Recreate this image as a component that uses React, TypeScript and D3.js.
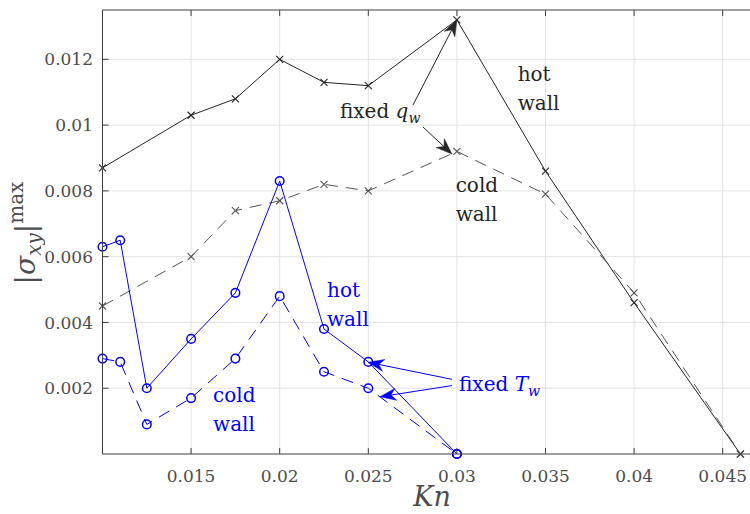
import React from 'react';
import * as d3 from 'd3';

// fixed heat flux (black), fixed wall temperature (blue)
const knQ = [0.01, 0.015, 0.0175, 0.02, 0.0225, 0.025, 0.03, 0.035, 0.04, 0.046];
const hotQ = [0.0087, 0.0103, 0.0108, 0.012, 0.0113, 0.0112, 0.0132, 0.0086, 0.0046, 0];
const coldQ = [0.0045, 0.006, 0.0074, 0.0077, 0.0082, 0.008, 0.0092, 0.0079, 0.0049, 0];

const knT = [0.01, 0.011, 0.0125, 0.015, 0.0175, 0.02, 0.0225, 0.025, 0.03];
const hotT = [0.0063, 0.0065, 0.002, 0.0035, 0.0049, 0.0083, 0.0038, 0.0028, 0];
const coldT = [0.0029, 0.0028, 0.0009, 0.0017, 0.0029, 0.0048, 0.0025, 0.002, 0];

const xTicks = [0.015, 0.02, 0.025, 0.03, 0.035, 0.04, 0.045];
const xTickLabels = ['0.015', '0.02', '0.025', '0.03', '0.035', '0.04', '0.045'];
const yTicks = [0.002, 0.004, 0.006, 0.008, 0.01, 0.012];
const yTickLabels = ['0.002', '0.004', '0.006', '0.008', '0.01', '0.012'];

// text notes, in data coordinates (x, baseline y)
const notes = [
  { x: 0.03343, y: 0.01134, lines: ['hot', 'wall'], color: '#262626' },
  { x: 0.02993, y: 0.00796, lines: ['cold', 'wall'], color: '#262626' },
  { x: 0.02267, y: 0.00477, lines: ['hot', 'wall'], color: '#0000ff' },
  { x: 0.01624, y: 0.00159, lines: ['cold', 'wall'], color: '#0000ff' },
];

// arrows [from, to] in data coordinates
const arrows = [
  { x0: 0.02752, y0: 0.01061, x1: 0.03, y1: 0.0132, color: '#262626' },
  { x0: 0.02809, y0: 0.00994, x1: 0.02972, y1: 0.00912, color: '#262626' },
  { x0: 0.02972, y0: 0.00227, x1: 0.02498, y1: 0.00279, color: '#0000ff' },
  { x0: 0.02972, y0: 0.00208, x1: 0.02566, y1: 0.00174, color: '#0000ff' },
];

const W = 750;
const H = 514;
const left = 102.5;
const top = 10;
const bottom = 454;
const font = 'DejaVu Serif';
const axisColor = '#404040';

function Arrow({ x0, y0, x1, y1, color }) {
  const ang = Math.atan2(y1 - y0, x1 - x0);
  const len = 16;
  const half = 6;
  const back = 11;
  const ux = Math.cos(ang), uy = Math.sin(ang);
  const px = -uy, py = ux;
  const bx = x1 - ux * len, by = y1 - uy * len;
  const nx = x1 - ux * back, ny = y1 - uy * back;
  const head = `M${x1},${y1}L${bx + px * half},${by + py * half}L${nx},${ny}L${bx - px * half},${by - py * half}Z`;
  return (
    <g>
      <line x1={x0} y1={y0} x2={nx} y2={ny} stroke={color} strokeWidth={1} />
      <path d={head} fill={color} stroke={color} strokeWidth={0.5} />
    </g>
  );
}

export default function App() {
  const x = d3.scaleLinear().domain([0.01, 0.047]).range([left, left + 0.037 * 17720]);
  const y = d3.scaleLinear().domain([0, 0.0135]).range([bottom, top]);
  const right = x(0.047);

  const line = (xs: number[], ys: number[]) =>
    d3.line<number>().x((_, i) => x(xs[i])).y((d) => y(d))(ys) || '';

  const crosses = (xs: number[], ys: number[], color: string) =>
    ys.map((v, i) => {
      const cx = x(xs[i]);
      const cy = y(v);
      const s = 3.5;
      return (
        <path key={i} d={`M${cx - s},${cy - s}L${cx + s},${cy + s}M${cx - s},${cy + s}L${cx + s},${cy - s}`}
          stroke={color} strokeWidth={1.1} fill="none" />
      );
    });

  const circles = (xs: number[], ys: number[]) =>
    ys.map((v, i) => (
      <circle key={i} cx={x(xs[i])} cy={y(v)} r={4.3} fill="none" stroke="#0000ff" strokeWidth={1.5} />
    ));

  return (
    <svg width={W} height={H} fontFamily={font}
      style={{ position: 'absolute', left: 0, top: 0, background: '#fff' }}>
      <rect x={0} y={0} width={W} height={H} fill="#fff" />
      {/* grid */}
      {xTicks.map((t) => (
        <line key={'gx' + t} x1={x(t)} x2={x(t)} y1={top} y2={bottom} stroke="#e3e3e3" strokeWidth={1} />
      ))}
      {yTicks.map((t) => (
        <line key={'gy' + t} x1={left} x2={right} y1={y(t)} y2={y(t)} stroke="#e3e3e3" strokeWidth={1} />
      ))}

      {/* series */}
      <path d={line(knQ, hotQ)} fill="none" stroke="#262626" strokeWidth={1} />
      {crosses(knQ, hotQ, '#262626')}
      <path d={line(knQ, coldQ)} fill="none" stroke="#555" strokeWidth={1} strokeDasharray="12,8" />
      {crosses(knQ, coldQ, '#555')}
      <path d={line(knT, hotT)} fill="none" stroke="#0000ff" strokeWidth={1} />
      {circles(knT, hotT)}
      <path d={line(knT, coldT)} fill="none" stroke="#0000ff" strokeWidth={1} strokeDasharray="12,8" />
      {circles(knT, coldT)}

      {/* axes box */}
      <line x1={left} x2={right} y1={bottom} y2={bottom} stroke={axisColor} strokeWidth={1} />
      <line x1={left} x2={right} y1={top} y2={top} stroke={axisColor} strokeWidth={1} />
      <line x1={left} x2={left} y1={top} y2={bottom} stroke={axisColor} strokeWidth={1} />
      {xTicks.map((t) => (
        <g key={'tx' + t}>
          <line x1={x(t)} x2={x(t)} y1={bottom} y2={bottom - 6} stroke={axisColor} />
          <line x1={x(t)} x2={x(t)} y1={top} y2={top + 6} stroke={axisColor} />
        </g>
      ))}
      {yTicks.map((t) => (
        <line key={'ty' + t} x1={left} x2={left + 6} y1={y(t)} y2={y(t)} stroke={axisColor} />
      ))}

      {/* tick labels */}
      {xTicks.map((t, i) => (
        <text key={'lx' + t} x={x(t)} y={482} textAnchor="middle" fontSize={17} fill="#4d4d4d">
          {xTickLabels[i]}
        </text>
      ))}
      {yTicks.map((t, i) => (
        <text key={'ly' + t} x={93} y={y(t)} dy="0.36em" textAnchor="end" fontSize={17} fill="#4d4d4d">
          {yTickLabels[i]}
        </text>
      ))}

      {/* axis labels */}
      <text x={432} y={506} textAnchor="middle" fontSize={27} fontStyle="italic" fill="#4d4d4d">Kn</text>
      <text transform="translate(35,233) rotate(-90)" textAnchor="middle" fontSize={28} fill="#4d4d4d">
        <tspan>|</tspan>
        <tspan fontStyle="italic">σ</tspan>
        <tspan fontStyle="italic" fontSize={20} dy={6}>xy</tspan>
        <tspan dy={-6}>|</tspan>
        <tspan fontSize={20} dy={-12}>max</tspan>
      </text>

      {/* annotations */}
      {notes.map((n, i) => (
        <text key={'n' + i} x={x(n.x)} y={y(n.y)} fontSize={20} fill={n.color}>
          {n.lines.map((l, j) => (
            <tspan key={j} x={x(n.x)} dy={j === 0 ? 0 : 29}>{l}</tspan>
          ))}
        </text>
      ))}
      <text x={x(0.0234)} y={y(0.01021)} fontSize={20} fill="#262626">
        fixed <tspan fontStyle="italic">q</tspan>
        <tspan fontStyle="italic" fontSize={14} dy={5}>w</tspan>
      </text>
      <text x={x(0.03012)} y={y(0.00192)} fontSize={20} fill="#0000ff">
        fixed <tspan fontStyle="italic">T</tspan>
        <tspan fontStyle="italic" fontSize={14} dy={5}>w</tspan>
      </text>

      {arrows.map((a, i) => (
        <Arrow key={'a' + i} x0={x(a.x0)} y0={y(a.y0)} x1={x(a.x1)} y1={y(a.y1)} color={a.color} />
      ))}
    </svg>
  );
}
